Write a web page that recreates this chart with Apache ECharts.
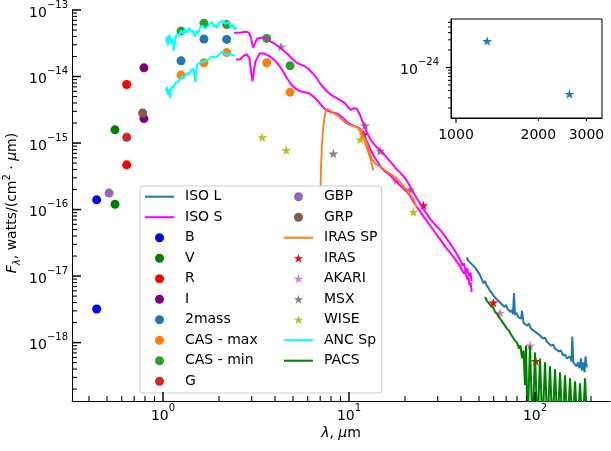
<!DOCTYPE html>
<html><head><meta charset="utf-8">
<script src="https://cdn.jsdelivr.net/npm/echarts@6/dist/echarts.min.js"></script>
<style>html,body{margin:0;padding:0;background:#fff}#c{width:611px;height:451px}</style>
</head><body><div id="c"></div>
<script>
// ---------------- data (wavelength in micron, flux in W/(cm^2 um)) ----------------
const isoL = [[42.94,1.91e-17],[43.64,1.72e-17],[44.46,1.84e-17],[45.29,1.55e-17],[46.42,1.60e-17],[47.59,1.35e-17],[48.78,1.26e-17],[49.99,1.10e-17],[50.93,9.93e-18],[51.89,9.27e-18],[52.86,7.81e-18],[53.86,8.37e-18],[54.87,7.30e-18],[55.90,6.81e-18],[56.95,6.15e-18],[58.00,6.36e-18],[59.10,5.36e-18],[60.21,5.55e-18],[61.33,4.67e-18],[62.48,4.84e-18],[63.66,4.22e-18],[64.84,4.36e-18],[66.06,3.81e-18],[67.30,3.94e-18],[68.55,3.43e-18],[69.84,3.68e-18],[71.15,3.21e-18],[72.48,3.32e-18],[73.84,2.89e-18],[75.21,3.10e-18],[76.15,2.70e-18],[77.10,5.55e-18],[78.05,2.61e-18],[79.53,2.80e-18],[81.02,2.44e-18],[82.54,2.61e-18],[84.08,2.28e-18],[85.13,2.99e-18],[86.73,1.98e-18],[88.36,2.05e-18],[90.57,1.79e-18],[92.84,1.92e-18],[95.17,1.62e-18],[97.55,1.67e-18],[100.0,1.46e-18],[102.5,1.51e-18],[105.1,1.32e-18],[107.7,1.36e-18],[110.4,1.15e-18],[113.2,1.19e-18],[116.0,1.03e-18],[118.9,1.07e-18],[121.9,9.03e-19],[125.0,9.34e-19],[128.1,8.14e-19],[131.3,8.43e-19],[134.6,7.35e-19],[138.0,7.60e-19],[141.4,6.41e-19],[145.0,6.63e-19],[148.6,5.78e-19],[151.4,5.58e-19],[154.3,6.19e-19],[157.1,5.22e-19],[158.7,1.23e-18],[160.7,5.04e-19],[164.1,5.40e-19],[167.2,4.39e-19],[170.3,5.04e-19],[173.5,4.10e-19],[176.7,5.78e-19],[178.9,3.83e-19],[181.9,5.04e-19],[184.6,3.58e-19],[186.9,6.19e-19],[189.7,4.25e-19]];

const isoSUpper = [[2.409,4.55e-14],[2.594,4.55e-14],[2.795,4.71e-14],[2.900,4.55e-14],[2.973,3.83e-14],[3.048,2.72e-14],[3.124,3.12e-14],[3.202,3.70e-14],[3.364,3.83e-14],[3.579,3.83e-14],[3.807,3.34e-14],[4.051,3.01e-14],[4.310,2.63e-14],[4.585,2.29e-14],[4.818,2.00e-14],[5.062,1.74e-14],[5.318,1.57e-14],[5.659,1.47e-14],[6.021,1.32e-14],[6.325,1.15e-14],[6.646,9.73e-15],[6.984,7.92e-15],[7.430,6.45e-15],[7.906,5.43e-15],[8.411,4.90e-15],[8.946,4.42e-15],[9.517,3.99e-15],[9.877,3.48e-15],[10.25,3.14e-15],[10.64,3.36e-15],[11.04,3.25e-15],[11.46,2.65e-15],[11.90,2.01e-15],[12.35,1.53e-15],[12.81,1.25e-15],[13.30,1.05e-15],[13.97,8.84e-16],[14.86,7.70e-16],[15.81,6.27e-16],[16.82,5.11e-16],[17.89,4.16e-16],[19.04,3.50e-16],[20.26,2.85e-16],[21.54,2.10e-16],[22.92,1.54e-16],[24.38,1.17e-16],[25.94,8.90e-17],[27.60,7.00e-17],[29.36,5.70e-17],[31.23,4.80e-17],[33.22,3.78e-17],[35.35,2.97e-17],[37.60,2.26e-17],[39.54,1.78e-17],[40.50,1.45e-17],[41.53,1.55e-17],[42.30,1.20e-17],[43.09,1.31e-17],[44.19,1.00e-17],[45.00,1.12e-17],[45.67,8.37e-18]];

const isoSLower = [[2.469,1.80e-14],[2.594,1.80e-14],[2.726,2.07e-14],[2.830,2.14e-14],[2.918,1.87e-14],[2.973,1.20e-14],[3.029,8.48e-15],[3.086,1.28e-14],[3.143,1.68e-14],[3.302,2.21e-14],[3.513,2.21e-14],[3.760,2.00e-14],[4.001,1.74e-14],[4.204,1.47e-14],[4.418,1.20e-14],[4.642,9.40e-15],[4.878,7.66e-15],[5.125,6.67e-15],[5.453,6.02e-15],[5.801,5.82e-15],[6.096,5.62e-15],[6.484,4.90e-15],[6.813,4.28e-15],[7.160,3.60e-15],[7.522,3.14e-15],[8.004,2.93e-15],[8.729,2.74e-15],[9.284,2.39e-15],[9.877,2.01e-15],[10.38,1.88e-15],[10.90,1.75e-15],[11.32,1.69e-15],[11.75,1.48e-15],[12.19,1.20e-15],[12.65,9.80e-16],[13.13,7.70e-16],[13.75,6.06e-16],[14.32,5.11e-16],[14.86,4.30e-16],[15.62,3.75e-16],[16.41,3.39e-16],[17.46,2.85e-16],[18.57,2.40e-16],[19.76,2.03e-16],[21.02,1.71e-16],[22.09,1.34e-16],[23.21,1.09e-16],[24.38,8.90e-17],[25.94,7.00e-17],[27.60,5.51e-17],[29.36,4.33e-17],[31.23,3.41e-17],[33.22,2.68e-17],[35.35,2.18e-17],[37.60,1.72e-17],[39.54,1.40e-17],[40.50,1.22e-17],[41.53,1.10e-17],[42.30,1.18e-17],[43.09,8.96e-18],[43.80,9.80e-18],[44.46,7.30e-18],[45.10,8.00e-18],[45.67,5.74e-18]];

const bandB = [[0.44,1.40e-16],[0.44,3.2e-18]];
const bandV = [[0.552,1.58e-15],[0.552,1.20e-16]];
const bandR = [[0.638,7.6e-15],[0.638,4.7e-16]];
const bandI = [[0.79,1.35e-14],[0.79,2.33e-15]];
const twoMass = [[1.25,1.72e-14],[1.66,3.67e-14],[2.2,3.61e-14]];
const casMax = [[1.25,1.05e-14],[1.66,1.61e-14],[2.2,2.29e-14],[3.61,1.61e-14],[4.82,5.82e-15]];
const casMin = [[1.25,4.82e-14],[1.66,6.34e-14],[2.2,6.04e-14],[3.61,3.74e-14],[4.82,1.45e-14]];
const gaiaG = [[0.638,1.22e-15]];
const gaiaBP = [[0.513,1.77e-16]];
const gaiaRP = [[0.777,2.83e-15]];

const irasSpBlue = [[6.941,4.22e-18],[7.002,1.30e-16],[7.071,4.30e-16],[7.160,1.01e-15],[7.295,1.88e-15],[7.430,2.74e-15],[7.588,3.31e-15],[7.906,3.09e-15],[8.234,2.83e-15],[8.729,2.56e-15],[9.319,2.15e-15],[9.877,1.91e-15],[10.38,1.82e-15],[10.77,1.78e-15],[11.18,1.69e-15],[11.60,1.43e-15],[12.04,1.12e-15],[12.50,8.25e-16],[12.97,6.06e-16],[13.51,3.88e-16]];
const irasSpRed = [[11.04,1.72e-15],[11.46,1.61e-15],[11.90,1.33e-15],[12.45,9.80e-16],[12.97,6.96e-16],[13.30,5.66e-16],[13.80,4.94e-16],[14.50,4.53e-16],[15.29,4.09e-16],[16.21,3.63e-16],[17.31,3.22e-16],[18.34,2.76e-16],[19.58,2.30e-16],[20.76,1.86e-16],[22.17,1.45e-16],[23.12,1.09e-16]];

const iras = [[12.0,1.35e-15],[25.1,1.16e-16],[59.7,3.98e-18],[100.9,5.27e-19]];
const akari = [[18.0,2.73e-16],[64.8,2.8e-18],[94.0,9.0e-19]];
const msx = [[4.31,2.81e-14],[8.24,6.95e-16],[12.19,1.83e-15],[14.7,7.62e-16],[21.3,2.0e-16]];
const wise = [[3.42,1.22e-15],[4.6,7.8e-16],[11.5,1.13e-15],[22.2,9.2e-17]];

const ancUpper = [[1.038,3.34e-14],[1.051,3.96e-14],[1.064,2.91e-14],[1.084,4.25e-14],[1.104,3.12e-14],[1.125,3.70e-14],[1.146,2.45e-14],[1.167,3.83e-14],[1.189,4.39e-14],[1.219,4.10e-14],[1.250,4.87e-14],[1.281,4.39e-14],[1.313,5.22e-14],[1.346,4.55e-14],[1.380,5.40e-14],[1.414,4.71e-14],[1.450,4.87e-14],[1.486,3.96e-14],[1.514,4.87e-14],[1.543,4.39e-14],[1.581,5.40e-14],[1.621,5.78e-14],[1.661,5.98e-14],[1.703,5.22e-14],[1.746,5.78e-14],[1.789,5.98e-14],[1.834,6.63e-14],[1.868,5.58e-14],[1.903,5.98e-14],[1.951,5.40e-14],[2.000,6.40e-14],[2.050,6.63e-14],[2.102,6.86e-14],[2.154,6.19e-14],[2.208,6.40e-14],[2.264,6.63e-14],[2.321,5.40e-14],[2.378,5.98e-14],[2.438,5.04e-14],[2.469,5.58e-14]];
const ancLower = [[1.038,6.02e-15],[1.051,6.91e-15],[1.064,5.25e-15],[1.077,6.45e-15],[1.090,4.74e-15],[1.111,7.15e-15],[1.132,6.67e-15],[1.160,7.92e-15],[1.189,7.66e-15],[1.211,8.48e-15],[1.234,8.20e-15],[1.265,1.01e-14],[1.289,9.40e-15],[1.313,1.04e-14],[1.346,1.12e-14],[1.380,1.08e-14],[1.405,1.20e-14],[1.432,1.24e-14],[1.459,1.32e-14],[1.495,8.20e-15],[1.504,1.20e-14],[1.523,1.47e-14],[1.552,1.57e-14],[1.581,1.63e-14],[1.621,1.63e-14],[1.661,1.68e-14],[1.703,1.74e-14],[1.746,1.80e-14],[1.789,1.87e-14],[1.834,2.00e-14],[1.868,2.07e-14],[1.903,1.93e-14],[1.951,2.00e-14],[2.000,2.14e-14],[2.050,2.21e-14],[2.102,2.37e-14],[2.154,2.21e-14],[2.208,2.07e-14],[2.264,2.21e-14],[2.321,2.14e-14],[2.378,2.00e-14],[2.438,2.07e-14]];

const pacs = [[53.86,4.84e-18],[55.21,4.22e-18],[56.59,4.36e-18],[58.00,3.55e-18],[59.46,3.43e-18],[60.95,2.89e-18],[62.48,2.70e-18],[64.05,2.44e-18],[65.65,2.28e-18],[67.30,1.98e-18],[68.98,2.05e-18],[70.71,1.62e-18],[72.48,1.51e-18],[74.30,1.32e-18],[76.15,1.36e-18],[78.05,1.07e-18],[80.01,1.00e-18],[82.02,8.14e-19],[83.56,9.03e-19],[85.13,5.78e-19],[86.73,7.60e-19],[88.36,2.29e-19],[89.46,9.03e-19],[91.15,5e-20],[93.99,9.03e-19],[96.96,5e-20],[100.0,7.10e-19],[103.1,5e-20],[106.4,5.78e-19],[109.7,5e-20],[113.2,5.04e-19],[116.7,5e-20],[120.4,4.39e-19],[124.2,5e-20],[128.1,3.96e-19],[132.1,5e-20],[136.3,3.58e-19],[140.6,5e-20],[145.0,3.23e-19],[149.5,5e-20],[154.3,2.91e-19],[159.1,5e-20],[164.1,2.63e-19],[169.3,5e-20],[174.6,2.45e-19],[180.1,5e-20],[185.8,2.91e-19],[191.6,5e-20]];

const insetStars = [[1300,2.86e-24],[2600,3.49e-25]];

// axis ticks / labels
const xMajorTicks = [1,10,100];
const yMajorTicks = [1e-18,1e-17,1e-16,1e-15,1e-14,1e-13];
const minorMult = [2,3,4,5,6,7,8,9];
const insetXTicks = [1000,2000,3000];
const insetXLabels = ['1000','2000','3000'];
const insetYMajor = [1e-24];

const legendCol1 = ['ISO L','ISO S','B','V','R','I','2mass','CAS - max','CAS - min','G'];
const legendCol2 = ['GBP','GRP','IRAS SP','IRAS','AKARI','MSX','WISE','ANC Sp','PACS'];
const lineNames = ['ISO L','ISO S','IRAS SP','ANC Sp','PACS'];

// ---------------- build ----------------
const L = Math.log10;
const FONT = 'DejaVu Sans';
const XMIN = -0.4892, XMAX = 2.4032, YMIN = -18.878, YMAX = -13;
const IXMIN = 2.9817, IXMAX = 3.534, IYMIN = -24.871, IYMAX = -23.164;
const STAR = 'path://M100,0 L122.45,69.1 L195.1,69.1 L136.3,111.8 L158.8,180.9 L100,138.2 L41.2,180.9 L63.7,111.8 L4.9,69.1 L77.55,69.1 Z';
const LINE_ICON = 'path://M0,0 L100,0 L100,7 L0,7 Z';

function tr(arr){ return arr.map(p => [L(p[0]), L(p[1])]); }
function joinSeg(a, b){ return tr(a).concat([['-','-']], tr(b)); }
function minorTicks(lo, hi){
  const out = [];
  for (let d = Math.floor(lo) - 1; d <= Math.ceil(hi); d++) {
    for (const m of minorMult) { const v = d + L(m); if (v > lo && v < hi) out.push(v); }
  }
  return out;
}
function expFmt(v){ const e = Math.round(v); return '{b|10}{s|' + (e < 0 ? '\u2212' + (-e) : '' + e) + '}'; }
function tickRich(){ return {
  b:{fontSize:14, fontFamily:FONT, color:'#000', lineHeight:20, verticalAlign:'bottom'},
  s:{fontSize:10, fontFamily:FONT, color:'#000', lineHeight:10, verticalAlign:'top'}
}; }

function lineS(name, data, color, width){
  return {name, type:'line', xAxisIndex:0, yAxisIndex:0, data, symbol:'none', showSymbol:false,
    lineStyle:{color, width}, itemStyle:{color}, connectNulls:false, animation:false, silent:true};
}
function scat(name, data, color, symbol, size){
  return {name, type:'scatter', xAxisIndex:0, yAxisIndex:0, data: tr(data), symbol, symbolSize:size,
    symbolKeepAspect:true, itemStyle:{color, opacity:1}, animation:false, silent:true};
}

const series = [
  lineS('ISO L', tr(isoL), '#1f77b4', 2),
  lineS('ISO S', joinSeg(isoSUpper, isoSLower), '#ff00ff', 2),
  scat('B', bandB, '#0000ff', 'circle', 9),
  scat('V', bandV, '#008000', 'circle', 9),
  scat('R', bandR, '#ff0000', 'circle', 9),
  scat('I', bandI, '#800080', 'circle', 9),
  scat('2mass', twoMass, '#1f77b4', 'circle', 9),
  scat('CAS - max', casMax, '#ff7f0e', 'circle', 9),
  scat('CAS - min', casMin, '#2ca02c', 'circle', 9),
  scat('G', gaiaG, '#d62728', 'circle', 9),
  scat('GBP', gaiaBP, '#9467bd', 'circle', 9),
  scat('GRP', gaiaRP, '#8c564b', 'circle', 9),
  lineS('IRAS SP', joinSeg(irasSpBlue, irasSpRed), '#ff7f0e', 1.8),
  scat('IRAS', iras, '#ff0000', STAR, 10),
  scat('AKARI', akari, '#e377c2', STAR, 10),
  scat('MSX', msx, '#7f7f7f', STAR, 10),
  scat('WISE', wise, '#bcbd22', STAR, 10),
  lineS('ANC Sp', joinSeg(ancUpper, ancLower), '#00ffff', 2),
  lineS('PACS', tr(pacs), '#008000', 2),
  {name:'inset', type:'scatter', xAxisIndex:1, yAxisIndex:1, data: tr(insetStars), symbol: STAR, symbolSize:10,
    symbolKeepAspect:true, itemStyle:{color:'#1f77b4', opacity:1}, animation:false, silent:true}
];

function legendItems(names){ return names.map(n => lineNames.includes(n) ? {name:n, icon:LINE_ICON} : {name:n}); }
function mkLegend(extra){
  return Object.assign({
    orient:'vertical', top:186, itemWidth:29, itemHeight:9, itemGap:6.5, selectedMode:false,
    textStyle:{fontSize:14, fontFamily:FONT, color:'#000', padding:[0,0,0,6]}
  }, extra);
}
function mainAxis(grid, pos, min, max, labelVals, fmt, margin){
  return {type:'value', gridIndex:grid, position:pos, min, max,
    axisLine:{show:true, onZero:false, lineStyle:{color:'#000', width:1}},
    splitLine:{show:false}, axisTick:{show:false},
    axisLabel:{show:true, customValues:labelVals, formatter:fmt, margin, rich:tickRich(),
      fontSize:14, fontFamily:FONT, color:'#000'}};
}

const titles = [
  {type:'text', z:5, x:12, y:203, rotation:Math.PI/2,
   style:{text:'{i|F}{sub|\u03bb}{n|, watts/(cm}{sup|2}{n| \u00b7 }{i|\u03bc}{n|m)}', align:'center', verticalAlign:'middle',
     fill:'#000', fontSize:14, fontFamily:FONT,
     rich:{
       n:{fontSize:14, fontFamily:FONT, fill:'#000', lineHeight:20, verticalAlign:'middle'},
       i:{fontSize:14, fontFamily:FONT, fontStyle:'italic', fill:'#000', lineHeight:20, verticalAlign:'middle'},
       sub:{fontSize:10, fontFamily:FONT, fontStyle:'italic', fill:'#000', lineHeight:10, verticalAlign:'bottom'},
       sup:{fontSize:10, fontFamily:FONT, fill:'#000', lineHeight:10, verticalAlign:'top'}
     }}},
  {type:'text', z:5, x:341, y:433,
   style:{text:'{i|\u03bb}{n|, }{i|\u03bc}{n|m}', align:'center', verticalAlign:'middle', fill:'#000', fontSize:14, fontFamily:FONT,
     rich:{
       n:{fontSize:14, fontFamily:FONT, fill:'#000'},
       i:{fontSize:14, fontFamily:FONT, fontStyle:'italic', fill:'#000'}
     }}}
];

const option = {
  animation:false,
  backgroundColor:'#fff',
  grid:[
    {left:72, top:6, width:538, height:395},
    {left:451, top:19, width:151, height:99, show:true, borderColor:'#000', borderWidth:1, backgroundColor:'#fff'}
  ],
  xAxis:[
    mainAxis(0, 'bottom', XMIN, XMAX, xMajorTicks.map(L), expFmt, 2),
    mainAxis(1, 'bottom', IXMIN, IXMAX, insetXTicks.map(L),
      (v)=>{ const i = insetXTicks.findIndex(t => Math.abs(L(t)-v) < 1e-6); return i >= 0 ? insetXLabels[i] : ''; }, 10)
  ],
  yAxis:[
    mainAxis(0, 'left', YMIN, YMAX, yMajorTicks.map(L), expFmt, 4),
    mainAxis(1, 'left', IYMIN, IYMAX, insetYMajor.map(L), expFmt, 12)
  ],
  legend:[
    mkLegend({left:140, data:legendItems(legendCol1), z:4,
      backgroundColor:'#ffffff', borderColor:'#cccccc', borderWidth:1, borderRadius:3, padding:[3.7,124,4.8,5]}),
    mkLegend({left:284, top:189.7, data:legendItems(legendCol2), z:5, padding:0, backgroundColor:'transparent'})
  ],
  graphic: titles,
  series
};

const chart = echarts.init(document.getElementById('c'), null, {renderer:'canvas'});
chart.setOption(option);

// tick marks: positions come from the axes' own scales via convertToPixel
const tickEls = [];
function addTicks(grid, dir, vals, anchor, dx, dy, w){
  vals.forEach(v => {
    const p = chart.convertToPixel({gridIndex:grid}, dir === 'x' ? [v, anchor] : [anchor, v]);
    if (!p) return;
    tickEls.push({type:'line', z:6, silent:true,
      shape:{x1:p[0], y1:p[1], x2:p[0] + dx, y2:p[1] + dy},
      style:{stroke:'#000', lineWidth:w}});
  });
}
addTicks(0, 'x', xMajorTicks.map(L), YMIN, 0, -9, 1.5);
addTicks(0, 'y', yMajorTicks.map(L), XMIN, 9, 0, 1.5);
addTicks(0, 'x', minorTicks(XMIN, XMAX), YMIN, 0, -5, 1.1);
addTicks(0, 'y', minorTicks(YMIN, YMAX), XMIN, 5, 0, 1.1);
addTicks(1, 'x', [L(insetXTicks[0])], IYMIN, 0, 5, 1.2);
addTicks(1, 'y', insetYMajor.map(L), IXMIN, -5, 0, 1.2);
addTicks(1, 'x', insetXTicks.slice(1).map(L), IYMIN, 0, 3, 1);
addTicks(1, 'y', minorTicks(IYMIN, IYMAX), IXMIN, -3, 0, 1);
chart.setOption({graphic: titles.concat(tickEls)});
</script>
</body></html>
